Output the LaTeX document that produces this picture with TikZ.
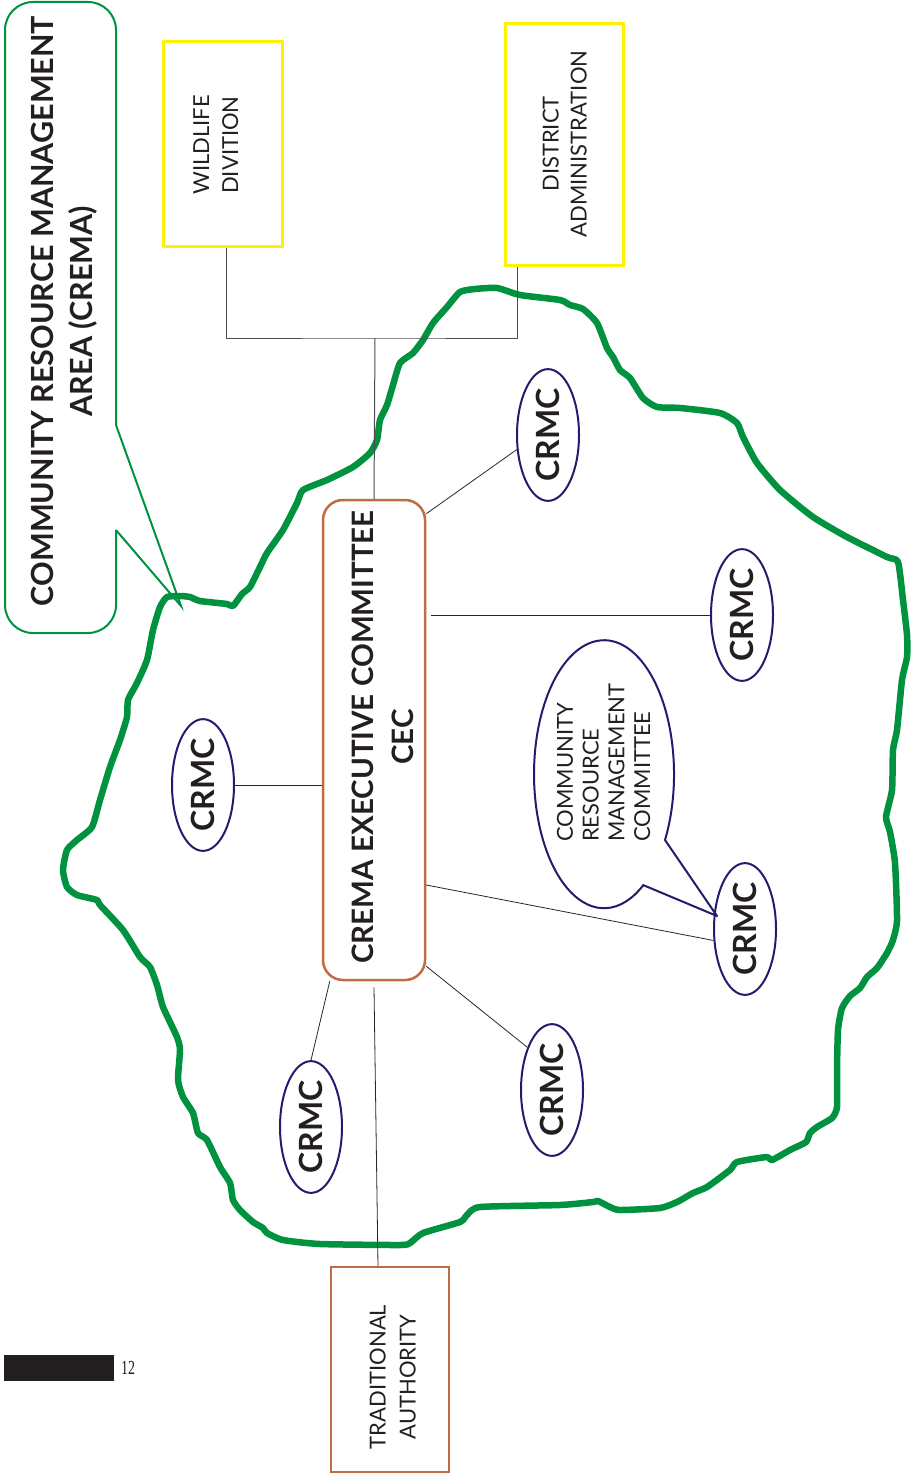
\documentclass[tikz,border=0pt]{standalone}
\usepackage{fontspec}
\setmainfont{Lato}
\newfontfamily\pnfont{Liberation Serif}
\usetikzlibrary{shapes.geometric,calc}
\definecolor{crgreen}{RGB}{0,146,63}
\definecolor{cryellow}{RGB}{255,242,0}
\definecolor{crbrown}{RGB}{192,108,66}
\definecolor{crnavy}{RGB}{34,28,110}
\definecolor{crtext}{RGB}{35,31,32}
\newcommand{\rtext}[3]{\rotatebox{90}{\fontsize{#1}{#2}\selectfont\begin{tabular}{@{}c@{}}#3\end{tabular}}}
\newcommand{\rtextl}[3]{\rotatebox{90}{\fontsize{#1}{#2}\selectfont\begin{tabular}{@{}l@{}}#3\end{tabular}}}
\begin{document}
\begin{tikzpicture}[x=1pt,y=-1pt,
  blob/.style={draw=crgreen, line width=6.5pt, line join=round, line cap=round},
  conn/.style={draw=black!85, line width=0.8pt},
  topconn/.style={draw=black!70, line width=1pt},
  ybox/.style={draw=cryellow, line width=3pt, inner sep=0pt, rectangle},
  bbox/.style={draw=crbrown, line width=2.5pt, inner sep=0pt, rectangle},
  crmc/.style={ellipse, draw=crnavy, line width=2pt, minimum width=62pt, minimum height=118pt, inner sep=0pt, text=crtext},
  lbl/.style={inner sep=0pt, text=crtext},
  callout/.style={draw=crgreen, line width=2pt},
  bubble/.style={draw=crnavy, line width=2pt, line join=round}
]
\useasboundingbox (0,0) rectangle (914,1479);

% CREMA area outline
\draw[blob] plot[smooth cycle, tension=0.35] coordinates {
(167,597) (180,596) (190,597) (200,601) (227,604) (233,606) (242,594) (250,587) (260,567) (267,553) (283,530) (297,503) (303,490) (327,480) (353,467) (370,453) (377,440) (380,420) (387,405) (393,385) (400,363) (413,353) (423,340) (433,323) (447,307) (460,292) (475,289) (497,288) (520,295) (560,300) (570,305) (583,309) (597,323) (607,348) (613,357) (620,370) (630,378) (643,398) (657,407) (680,408) (720,413) (737,423) (743,437) (757,463) (780,490) (813,517) (847,537) (887,557) (898,562) (903,600) (907,635) (907,657) (902,680) (897,730) (893,750) (892,790) (886,817) (890,832) (895,863) (897,920) (893,940) (887,953) (877,968) (867,977) (860,988) (850,996) (842,1008) (838,1030) (837,1070) (837,1107) (832,1118) (817,1127) (810,1133) (806,1142) (790,1150) (772,1160) (767,1157) (737,1162) (730,1170) (707,1187) (693,1193) (677,1202) (660,1208) (620,1210) (610,1207) (598,1201) (593,1202) (560,1205) (480,1207) (467,1215) (460,1222) (423,1233) (410,1243) (400,1245) (320,1244) (283,1240) (267,1233) (263,1228) (253,1222) (240,1210) (233,1200) (230,1183) (220,1167) (207,1140) (198,1133) (193,1113) (183,1097) (178,1080) (180,1050) (177,1037) (163,1007) (157,985) (150,967) (140,957) (123,930) (100,905) (97,900) (77,895) (67,887) (63,870) (67,850) (77,840) (92,827) (100,800) (110,767) (120,740) (127,717) (128,700) (137,683) (147,660) (153,630) (160,607)};

% callout
\draw[callout, rounded corners=28pt] (116,425) -- (116,2) -- (5,2) -- (5,633) -- (116,633) -- (116,530);
\coordinate (tip) at (181,606);
\draw[callout] (116,425) -- (tip) -- (116,530);
\node[lbl] (crematext) at (65,311) {\rtext{30.5}{40}{\bfseries COMMUNITY RESOURCE MANAGEMENT\\\bfseries AREA (CREMA)}};

% boxes
\node[ybox, minimum width=119pt, minimum height=205pt] (wd) at (222.5,144.5) {};
\node[lbl] (wdtext) at (217.7,145) {\rtext{22}{29}{WILDLIFE\\DIVITION}};
\node[ybox, minimum width=118pt, minimum height=241pt] (da) at (564,144.5) {};
\node[lbl] (datext) at (567,144) {\rtext{22}{28}{DISTRICT\\ADMINISTRATION}};
\node[bbox, rounded corners=20pt, minimum width=102pt, minimum height=480pt] (cec) at (374,740) {};
\node[lbl] (cectext) at (385,737) {\rtext{29.5}{40}{\bfseries CREMA EXECUTIVE COMMITTEE\\\bfseries CEC}};
\node[bbox, minimum width=118pt, minimum height=205pt] (ta) at (390,1369.5) {};
\node[lbl] (tatext) at (394.5,1377) {\rtext{22}{30}{TRADITIONAL\\AUTHORITY}};

% CRMC nodes
\node[crmc] (c1) at (548,435) {\rotatebox{90}{\fontsize{32}{38}\selectfont\bfseries CRMC}};
\node[crmc] (c2) at (742,615) {\rotatebox{90}{\fontsize{32}{38}\selectfont\bfseries CRMC}};
\node[crmc] (c3) at (203,785) {\rotatebox{90}{\fontsize{32}{38}\selectfont\bfseries CRMC}};
\node[crmc] (c4) at (745,929) {\rotatebox{90}{\fontsize{32}{38}\selectfont\bfseries CRMC}};
\node[crmc] (c5) at (552,1090) {\rotatebox{90}{\fontsize{32}{38}\selectfont\bfseries CRMC}};
\node[crmc] (c6) at (311,1127) {\rotatebox{90}{\fontsize{32}{38}\selectfont\bfseries CRMC}};

% speech bubble
\draw[bubble] (643,885) -- (717,916) -- (665,840) arc[start angle=29.4, end angle=-304, x radius=70, y radius=134] -- cycle;
\node[lbl, anchor=south] (bubtext) at (606.4,842) {\rtextl{22}{25.7}{COMMUNITY\\RESOURCE\\MANAGEMENT\\COMMITTEE}};

% connectors
\coordinate (j) at (375,338);
\draw[topconn] ([xshift=3.5pt]wd.south) |- (j) -| ([xshift=-47pt]da.south);
\draw[topconn] (j) -- (cec.north);
\draw[conn] ([yshift=-15pt]cec.north east) -- (c1.205);
\draw[conn] ([xshift=5pt]cec.east |- c2.west) -- (c2.west);
\draw[conn] (c3.east) -- (c3.east -| cec.west);
\draw[conn] ([yshift=-145pt]cec.east) -- (c4.200);
\draw[conn] ([yshift=15pt]cec.south east) -- (c5.120);
\draw[conn] ([xshift=8pt]cec.south west) -- (c6.north);
\draw[conn] ([yshift=-6pt]cec.south) -- ([xshift=-12pt]ta.north);

% page marker
\fill[crtext] (4,1355) rectangle (114,1381);
\node[lbl] (pnum) at (128,1368) {\pnfont\fontsize{20}{22}\selectfont\scalebox{0.7}[1]{12}};
\end{tikzpicture}
\end{document}
